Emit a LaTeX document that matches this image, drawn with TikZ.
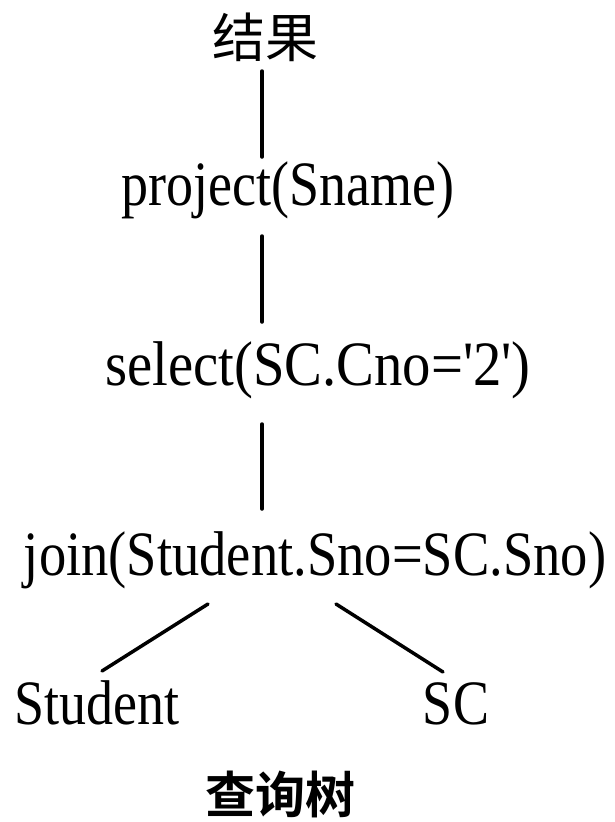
\documentclass[tikz,border=0pt]{standalone}
\usepackage{fontspec}
\setmainfont{Liberation Serif}
\newfontfamily\cjk{Noto Sans CJK SC}
\newfontfamily\cjkb{Noto Sans CJK SC Bold}
\newcommand{\tall}[2][1]{\scalebox{#1}[1.17]{#2}}
\begin{document}
\begin{tikzpicture}[x=1pt,y=-1pt,
  lbl/.style={inner sep=0pt,anchor=base,font=\fontsize{54}{60}\selectfont},
  cjklbl/.style={inner sep=0pt,font=\cjk\fontsize{53}{58}\selectfont},
  edge/.style={line width=3.5pt,line cap=round}]
\useasboundingbox (0,0) rectangle (614,822);
\node[cjklbl] (res) at (265,37) {结果};
\node[lbl] (proj) at (288,205) {\tall{project(Sname)}};
\node[lbl] (sel) at (318,385) {\tall[1.05]{select(SC.Cno=\textquotesingle 2\textquotesingle)}};
\node[lbl] (join) at (315,575) {\tall[1.01]{join(Student.Sno=SC.Sno)}};
\node[lbl] (stu) at (97,724) {\tall{Student}};
\node[lbl] (sc) at (456,724) {\tall{SC}};
\node[cjklbl,font=\cjkb\fontsize{50}{56}\selectfont] (title) at (280,794) {查询树};
\coordinate (a1) at (262,71);  \coordinate (a2) at (262,157);
\coordinate (b1) at (262,236); \coordinate (b2) at (262,322);
\coordinate (c1) at (262,424); \coordinate (c2) at (262,509);
\coordinate (l1) at (208,604); \coordinate (l2) at (102,671);
\coordinate (r1) at (336,604); \coordinate (r2) at (443,672);
\draw[edge] (a1) -- (a2);
\draw[edge] (b1) -- (b2);
\draw[edge] (c1) -- (c2);
\draw[edge] (l1) -- (l2);
\draw[edge] (r1) -- (r2);
\end{tikzpicture}
\end{document}
